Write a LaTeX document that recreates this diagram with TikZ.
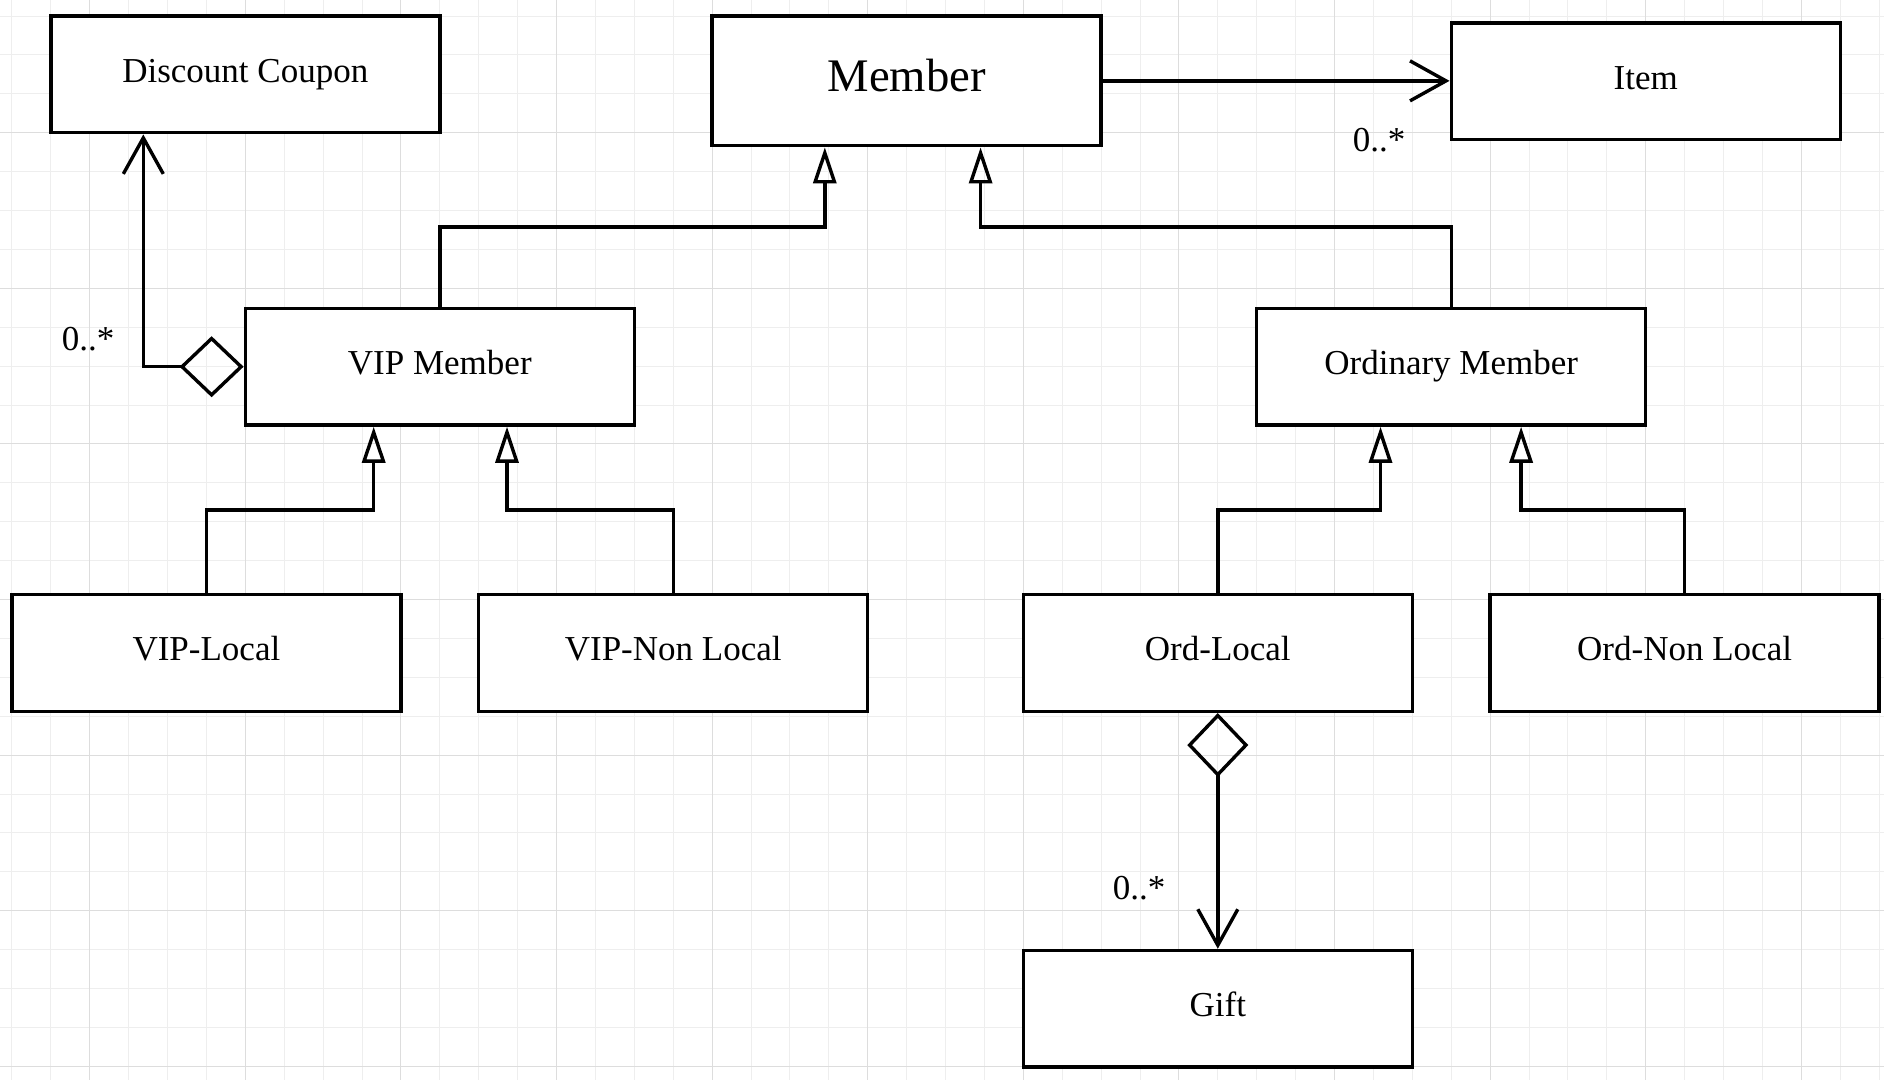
\documentclass[tikz,border=0pt]{standalone}
\usepackage{fontspec}
\setmainfont{Liberation Serif}
\usetikzlibrary{arrows.meta,calc}
\definecolor{gridminor}{HTML}{EEEEEE}
\definecolor{gridmajor}{HTML}{DDDDDD}
\begin{document}
\begin{tikzpicture}[x=1pt,y=-1pt,
  cls/.style={draw=black, line width=3.4pt, fill=white, minimum width=389pt,
    minimum height=116.7pt, inner sep=0pt, font=\fontsize{35}{42}\selectfont,
    text height=24.5pt, text depth=8.75pt},
  bigcls/.style={cls, minimum height=129.7pt, font=\fontsize{46.7}{56}\selectfont,
    text height=32.7pt, text depth=11.7pt},
  lbl/.style={font=\fontsize{35}{42}\selectfont, inner sep=0pt, anchor=base},
  gen/.style={line width=3.4pt, -{Triangle[open, length=36pt, width=23pt]}},
  assoc/.style={line width=3.4pt, -{Straight Barb[length=36pt, width=40pt]}},
  agg/.style={line width=3.4pt, {Diamond[open, length=64pt, width=61pt]}-{Straight Barb[length=36pt, width=40pt]}},
  gminor/.style={draw=gridminor, line width=1pt},
  gmajor/.style={draw=gridmajor, line width=1pt}]
\fill[white] (0,0) rectangle (1884,1080);
\useasboundingbox (0,0) rectangle (1884,1080);
% grid
\foreach \k in {0,...,48} \draw[gminor] ({11.9+38.9*\k},0) -- ({11.9+38.9*\k},1080);
\foreach \k in {0,...,27} \draw[gminor] (0,{16+38.9*\k}) -- (1884,{16+38.9*\k});
\foreach \k in {2,6,...,46} \draw[gmajor] ({11.9+38.9*\k},0) -- ({11.9+38.9*\k},1080);
\foreach \k in {3,7,...,27} \draw[gmajor] (0,{16+38.9*\k}) -- (1884,{16+38.9*\k});
% classes
\node[cls] (dc) at (245.3,74.35) {Discount Coupon};
\node[bigcls] (member) at (906.6,80.85) {Member};
\node[cls] (item) at (1645.7,81.2) {Item};
\node[cls] (vip) at (439.8,366.7) {VIP Member};
\node[cls] (ord) at (1451.2,366.7) {Ordinary Member};
\node[cls] (vl) at (206.4,653) {VIP-Local};
\node[cls] (vnl) at (673.2,653) {VIP-Non Local};
\node[cls] (ol) at (1217.8,653) {Ord-Local};
\node[cls] (onl) at (1684.6,653) {Ord-Non Local};
\node[cls] (gift) at (1217.8,1008.8) {Gift};
% attachment points
\coordinate (m1) at ([xshift=-81.8pt]member.south);
\coordinate (m2) at ([xshift=74pt]member.south);
\coordinate (v1) at ([xshift=-66.1pt]vip.south);
\coordinate (v2) at ([xshift=67.2pt]vip.south);
\coordinate (o1) at ([xshift=-70.7pt]ord.south);
\coordinate (o2) at ([xshift=69.9pt]ord.south);
\coordinate (dcin) at ([xshift=-102pt]dc.south);
% generalizations
\draw[gen] (vip.north) |- ($(vip.north)!.5!(m1)$) -| (m1);
\draw[gen] (ord.north) |- ($(ord.north)!.5!(m2)$) -| (m2);
\draw[gen] (vl.north) |- ($(vl.north)!.5!(v1)$) -| (v1);
\draw[gen] (vnl.north) |- ($(vnl.north)!.5!(v2)$) -| (v2);
\draw[gen] (ol.north) |- ($(ol.north)!.5!(o1)$) -| (o1);
\draw[gen] (onl.north) |- ($(onl.north)!.5!(o2)$) -| (o2);
% associations
\draw[assoc] (member.east) -- (member.east -| item.west);
\draw[agg] (vip.west) -| (dcin);
\draw[agg] (ol.south) -- (gift.north);
% multiplicities
\node[lbl] (mItem) at (1379,151.7) {0..*};
\node[lbl] (mDC) at (88,350) {0..*};
\node[lbl] (mGift) at (1139,899.3) {0..*};
\end{tikzpicture}
\end{document}
